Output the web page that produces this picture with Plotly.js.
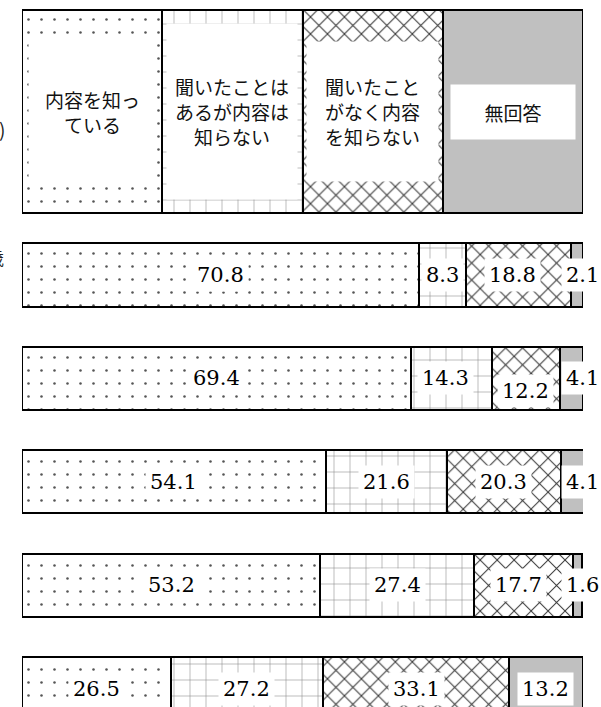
<!DOCTYPE html>
<html><head><meta charset="utf-8">
<script src="https://cdn.plot.ly/plotly-3.0.1.min.js"></script>
<style>html,body{margin:0;padding:0;background:#fff;overflow:hidden}</style>
</head><body><div id="chart" style="width:601px;height:707px"></div>
<script>
// ---- data ----
const seriesNames = ["内容を知っている", "聞いたことはあるが内容は知らない", "聞いたことがなく内容を知らない", "無回答"];
const legendLabels = ["内容を知っ<br>ている", "聞いたことは<br>あるが内容は<br>知らない", "聞いたこと<br>がなく内容<br>を知らない", "無回答"];
const legendShare = [25, 25, 25, 25];
const known      = [70.8, 69.4, 54.1, 53.2, 26.5];
const heardOnly  = [8.3, 14.3, 21.6, 27.4, 27.2];
const notKnown   = [18.8, 12.2, 20.3, 17.7, 33.1];
const noAnswer   = [2.1, 4.1, 4.1, 1.6, 13.2];
const cutLabels  = ["(%)", "歳"];

// ---- layout helpers ----
const series = [known, heardOnly, notKnown, noAnswer];
const nRows = known.length;
const rowY = known.map((_, i) => i + 1);
const headerY = -0.581;
const rowW = 0.61, headerW = 1.963;

const patterns = [
  {shape: ".", fgcolor: "#555", bgcolor: "#fff", size: 13, solidity: 0.03},
  {shape: "+", fgcolor: "#888", bgcolor: "#fff", size: 16, solidity: 0.07},
  {shape: "x", fgcolor: "#333", bgcolor: "#fff", size: 12, solidity: 0.16},
  null
];

const traces = series.map((vals, k) => {
  const m = {color: k === 3 ? "#c0c0c0" : "#fff", line: {color: "#000", width: 2}};
  if (patterns[k]) m.pattern = patterns[k];
  return {
    type: "bar", orientation: "h", name: seriesNames[k],
    x: [legendShare[k]].concat(vals),
    y: [headerY].concat(rowY),
    width: [headerW].concat(rowY.map(() => rowW)),
    marker: m, hoverinfo: "skip", showlegend: false
  };
});

const annotations = [];
const boxSizes = [[127, 144], [130, 175], [131, 139], [124, 54]];
let acc = 0;
legendShare.forEach((v, k) => {
  annotations.push({
    x: acc + v / 2, y: headerY, xref: "x", yref: "y", text: legendLabels[k],
    showarrow: false, bgcolor: "#fff", borderpad: 0,
    width: boxSizes[k][0], height: boxSizes[k][1],
    font: {family: "Noto Sans CJK JP", size: 19, color: "#111"}
  });
  acc += v;
});

const overrides = {"1-2": {yshift: -13}, "1-1": {xshift: -6}, "0-2": {xshift: -6}, "3-2": {xshift: -5}};
for (let i = 0; i < nRows; i++) {
  let c = 0;
  series.forEach((vals, k) => {
    const v = vals[i];
    const small = v < 5;
    const a = {
      x: small ? 100 : c + v / 2, y: rowY[i], xref: "x", yref: "y",
      text: v.toFixed(1), showarrow: false, bgcolor: "#fff", borderpad: 4,
      xshift: small ? -1 : 0,
      font: {family: "DejaVu Serif", size: 21, color: "#000"}
    };
    Object.assign(a, overrides[i + "-" + k] || {});
    annotations.push(a);
    c += v;
  });
}
// left labels cut off by the picture's edge (as in the reference)
annotations.push({x: -0.026, y: 1 - 113 / 707, xref: "paper", yref: "paper", xanchor: "right",
  text: cutLabels[0], showarrow: false, font: {family: "Noto Sans CJK JP", size: 19, color: "#222"}});
annotations.push({x: -0.028, y: 1 - 257 / 707, xref: "paper", yref: "paper", xanchor: "right",
  text: cutLabels[1], showarrow: false, font: {family: "Noto Sans CJK JP", size: 17, color: "#222"}});

const layout = {
  width: 601, height: 707,
  margin: {l: 22, r: 18, t: 0, b: 0},
  paper_bgcolor: "#fff", plot_bgcolor: "#fff",
  barmode: "stack",
  xaxis: {range: [0, 100], visible: false, fixedrange: true},
  yaxis: {range: [5.178, -1.66], visible: false, fixedrange: true},
  annotations: annotations,
  showlegend: false
};
Plotly.newPlot("chart", traces, layout, {displayModeBar: false, staticPlot: true});
</script></body></html>
